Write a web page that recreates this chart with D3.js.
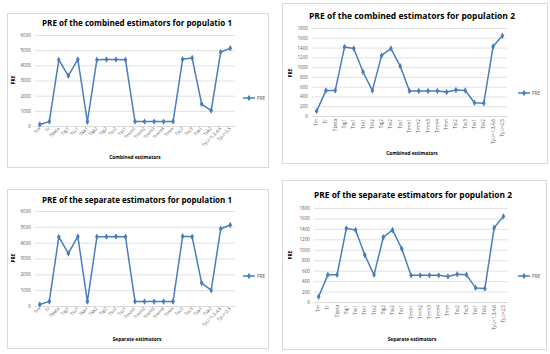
<!DOCTYPE html>
<html>
<head>
<meta charset="utf-8">
<script src="https://cdn.jsdelivr.net/npm/d3@7"></script>
<style>
  body { margin: 0; background: #fff; }
  svg { display: block; font-family: "Open Sans", "Liberation Sans", sans-serif; }
</style>
</head>
<body>
<div id="chart"></div>
<script>
// estimator names (x categories), same for all four panels
const estimators = ["Tm", "Tr", "Tbeta", "Tqj1", "Tsv1", "Tkk1", "Tkk2", "Tqj2", "Tsv2", "Tss1",
  "Tmm1", "Tmm2", "Tmm3", "Tmm4", "Tmm", "Tsc2", "Tsc3", "Tsk1", "Tsk2", "Tyi,i=1,3,4,6", "Tyi,i=2,5"];

// PRE values
const combinedPop1 = [100, 290, 4360, 3310, 4390, 280, 4370, 4380, 4390, 4370,
  290, 290, 290, 290, 290, 4400, 4480, 1450, 1020, 4880, 5120];
const combinedPop2 = [100, 520, 520, 1410, 1380, 900, 520, 1240, 1380, 1020,
  510, 510, 510, 510, 490, 530, 520, 270, 260, 1420, 1640];
const separatePop1 = [100, 290, 4360, 3320, 4390, 280, 4370, 4380, 4390, 4370,
  290, 290, 290, 290, 290, 4400, 4370, 1450, 1000, 4880, 5120];
const separatePop2 = [100, 520, 520, 1410, 1380, 900, 520, 1240, 1380, 1020,
  510, 510, 510, 510, 490, 530, 520, 270, 260, 1420, 1640];

const titles = [
  "PRE of the combined estimators for populatio 1",
  "PRE of the combined estimators for population 2",
  "PRE of the separate estimators for population 1",
  "PRE of the separate estimators for population 2"
];
const xTitles = ["Combined estimators", "Combined estimators", "Separate estimators", "Separate estimators"];
const yMax = [6000, 1800, 6000, 1800];
const yStep = [1000, 200, 1000, 200];

// layout of each panel on the 550x354 page
const panels = [
  {data: combinedPop1, box: [7, 13, 261, 154], plot: {l: 35, r: 235, t: 35, b: 126}, title: [137, 26, 190], ytitle: [15, 80], xtitle: [135, 159], legend: [243, 98], rot: -45},
  {data: combinedPop2, box: [282, 3, 265, 160], plot: {l: 312, r: 507, t: 28, b: 116}, title: [412, 19, 206], ytitle: [292, 73], xtitle: [412, 155], legend: [518, 93], rot: -90},
  {data: separatePop1, box: [7, 189, 261, 159], plot: {l: 35, r: 235, t: 211, b: 306}, title: [137, 203, 190], ytitle: [15, 258], xtitle: [137, 341], legend: [243, 276], rot: -45},
  {data: separatePop2, box: [282, 180, 264, 169], plot: {l: 314, r: 508, t: 208, b: 302}, title: [413, 198, 198], ytitle: [292, 255], xtitle: [412, 341], legend: [518, 276], rot: -90}
];

const lineColor = "#4a7ebb";
const gridColor = "#d9d9d9";
const textColor = "#595959";

const svg = d3.select("#chart").append("svg")
  .attr("width", 550)
  .attr("height", 354);

svg.append("rect").attr("width", 550).attr("height", 354).attr("fill", "#fff");

const diamond = d3.symbol().type(d3.symbolDiamond).size(12);

panels.forEach((p, i) => {
  const g = svg.append("g");

  g.append("rect")
    .attr("x", p.box[0] + 0.5).attr("y", p.box[1] + 0.5)
    .attr("width", p.box[2]).attr("height", p.box[3])
    .attr("fill", "#fff")
    .attr("stroke", gridColor)
    .attr("stroke-width", 1);

  const x = d3.scaleBand()
    .domain(estimators)
    .range([p.plot.l, p.plot.r]);

  const y = d3.scaleLinear()
    .domain([0, yMax[i]])
    .range([p.plot.b, p.plot.t]);

  const ticks = d3.range(0, yMax[i] + 1, yStep[i]);

  // gridlines + y labels
  g.append("g")
    .attr("transform", `translate(${p.plot.l},0)`)
    .call(d3.axisLeft(y).tickValues(ticks).tickFormat(d3.format("d"))
      .tickSize(-(p.plot.r - p.plot.l)).tickPadding(4))
    .call(g => g.select(".domain").remove())
    .call(g => g.selectAll(".tick line").attr("stroke", gridColor).attr("stroke-width", 0.8))
    .call(g => g.selectAll(".tick text")
      .attr("fill", textColor)
      .attr("font-size", 4.6)
      .attr("font-family", "Open Sans, sans-serif"));

  // x axis labels
  const xa = g.append("g")
    .attr("transform", `translate(0,${p.plot.b})`)
    .call(d3.axisBottom(x).tickSize(0).tickPadding(0))
    .call(g => g.select(".domain").attr("stroke", gridColor).attr("stroke-width", 0.8));
  xa.selectAll(".tick text")
    .attr("fill", textColor)
    .attr("font-size", 4.6)
    .attr("font-family", "Open Sans, sans-serif")
    .attr("text-anchor", "end")
    .attr("dy", null)
    .attr("y", 0)
    .attr("transform", p.rot === -45 ? "translate(1,3) rotate(-45)" : "translate(1.5,3) rotate(-90)");

  // line + markers
  const line = d3.line()
    .x((d, j) => x(estimators[j]) + x.bandwidth() / 2)
    .y(d => y(d));

  g.append("path")
    .datum(p.data)
    .attr("fill", "none")
    .attr("stroke", lineColor)
    .attr("stroke-width", 1.5)
    .attr("stroke-linejoin", "round")
    .attr("d", line);

  g.append("g")
    .selectAll("path")
    .data(p.data)
    .join("path")
      .attr("transform", (d, j) => `translate(${x(estimators[j]) + x.bandwidth() / 2},${y(d)})`)
      .attr("d", diamond)
      .attr("fill", lineColor);

  // titles
  g.append("text")
    .attr("x", p.title[0]).attr("y", p.title[1])
    .attr("text-anchor", "middle")
    .attr("font-size", 9.5)
    .attr("font-weight", "bold")
    .attr("fill", "#000")
    .attr("textLength", p.title[2])
    .attr("lengthAdjust", "spacingAndGlyphs")
    .text(titles[i]);

  g.append("text")
    .attr("transform", `translate(${p.ytitle[0]},${p.ytitle[1]}) rotate(-90)`)
    .attr("text-anchor", "middle")
    .attr("font-size", 4.8)
    .attr("font-weight", "bold")
    .attr("fill", "#000")
    .text("PRE");

  g.append("text")
    .attr("x", p.xtitle[0]).attr("y", p.xtitle[1])
    .attr("text-anchor", "middle")
    .attr("font-size", 4.8)
    .attr("font-weight", "bold")
    .attr("fill", "#000")
    .text(xTitles[i]);

  // legend
  const lg = g.append("g").attr("transform", `translate(${p.legend[0]},${p.legend[1]})`);
  lg.append("line")
    .attr("x1", 0).attr("x2", 12)
    .attr("stroke", lineColor).attr("stroke-width", 1.5);
  lg.append("path").attr("transform", "translate(6,0)").attr("d", diamond).attr("fill", lineColor);
  lg.append("text")
    .attr("x", 14).attr("dy", "0.35em")
    .attr("font-size", 4.6)
    .attr("fill", textColor)
    .text("PRE");
});
</script>
</body>
</html>
